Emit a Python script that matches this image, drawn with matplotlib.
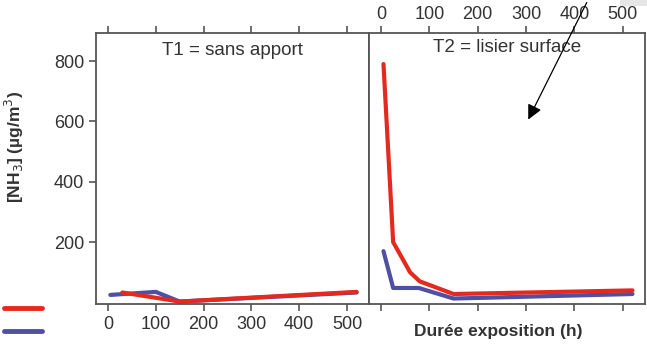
import matplotlib.pyplot as plt
from matplotlib.lines import Line2D
from matplotlib.patches import Rectangle

# data (hours, ug/m3)
t1_red_x = [30, 150, 520]
t1_red_y = [33, 3, 35]
t1_blue_x = [5, 100, 150, 520]
t1_blue_y = [25, 35, 3, 33]

t2_red_x = [5, 25, 60, 80, 150, 520]
t2_red_y = [790, 200, 100, 70, 28, 40]
t2_blue_x = [5, 25, 78, 150, 520]
t2_blue_y = [170, 48, 48, 13, 28]

xticks = [0, 100, 200, 300, 400, 500]
yticks = [200, 400, 600, 800]

red = "#e4291f"
blue = "#4f4fa3"
grey = "#555555"
txt = "#333333"

plt.rcParams['font.family'] = ['Liberation Sans', 'DejaVu Sans']

fig = plt.figure(figsize=(6.47, 3.47), dpi=100)
ax1 = fig.add_axes([0.1484, 0.124, 0.422, 0.781])
ax2 = fig.add_axes([0.5703, 0.124, 0.4266, 0.781])

for ax in (ax1, ax2):
    ax.set_xlim(-25, 546)
    ax.set_ylim(-5, 893)
    ax.set_xticks(xticks)
    for s in ax.spines.values():
        s.set_color(grey)
        s.set_linewidth(1.3)
    ax.tick_params(colors=grey, labelcolor=txt, labelsize=13, length=5, width=1.2)

ax1.plot(t1_blue_x, t1_blue_y, color=blue, lw=3, solid_capstyle='round')
ax1.plot(t1_red_x, t1_red_y, color=red, lw=3, solid_capstyle='round')
ax2.plot(t2_blue_x, t2_blue_y, color=blue, lw=3, solid_capstyle='round')
ax2.plot(t2_red_x, t2_red_y, color=red, lw=3, solid_capstyle='round')

ax1.set_yticks(yticks)
ax1.tick_params(axis='x', top=True, bottom=True, labelbottom=True, labeltop=False)
ax1.tick_params(axis='y', left=True, right=False)
ax2.set_yticks([])
ax2.tick_params(axis='x', top=True, bottom=True, labeltop=True, labelbottom=False, pad=2)

ax1.text(0.5, 0.935, "T1 = sans apport", transform=ax1.transAxes, ha='center', va='center',
         fontsize=13.5, color=txt)
ax2.text(0.5, 0.945, "T2 = lisier surface", transform=ax2.transAxes, ha='center', va='center',
         fontsize=13.5, color=txt)

fig.text(0.022, 0.575, "[NH$_3$] (µg/m$^3$)", rotation=90, ha='center', va='center',
         fontsize=12.5, fontweight='bold', color=txt)
fig.text(0.77, 0.045, "Durée exposition (h)", ha='center', va='center',
         fontsize=12.5, fontweight='bold', color=txt)

# legend stubs at bottom left
fig.add_artist(Line2D([0.006, 0.065], [1 - 308 / 347] * 2, color=red, lw=3.5,
                      solid_capstyle='round', transform=fig.transFigure))
fig.add_artist(Line2D([0.006, 0.065], [1 - 331 / 347] * 2, color=blue, lw=3.5,
                      solid_capstyle='round', transform=fig.transFigure))

# small grey patch at the top right corner
fig.add_artist(Rectangle((620 / 647, 1 - 6 / 347), 27 / 647, 6 / 347, color="#e6e6e6",
                         transform=fig.transFigure, lw=0))

# arrow into the right panel
ax2.annotate("", xy=(527 / 647, 1 - 122 / 347), xytext=(588 / 647, 1.0),
             xycoords='figure fraction', textcoords='figure fraction',
             arrowprops=dict(arrowstyle='-|>', color='black', lw=0.9, mutation_scale=22))

fig.savefig("out.png", dpi=100)
